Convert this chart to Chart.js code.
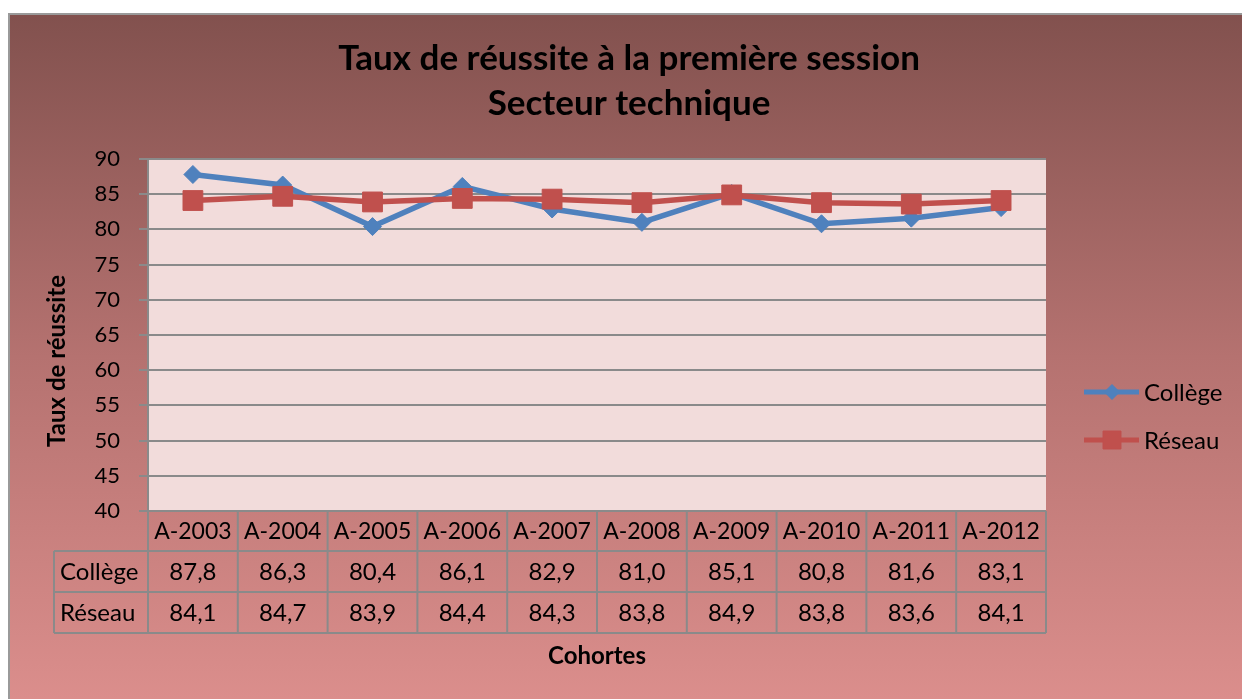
<!DOCTYPE html>
<html>
<head>
<meta charset="utf-8">
<script src="https://cdn.jsdelivr.net/npm/chart.js@4.4.1/dist/chart.umd.min.js"></script>
<style>
html,body{margin:0;padding:0;background:#fff;}
#wrap{width:1242px;height:699px;position:relative;}
</style>
</head>
<body>
<div id="wrap"><canvas id="c" width="1242" height="699"></canvas></div>
<script>
const categories = ['A-2003','A-2004','A-2005','A-2006','A-2007','A-2008','A-2009','A-2010','A-2011','A-2012'];
const college = [87.8, 86.3, 80.4, 86.1, 82.9, 81.0, 85.1, 80.8, 81.6, 83.1];
const reseau = [84.1, 84.7, 83.9, 84.4, 84.3, 83.8, 84.9, 83.8, 83.6, 84.1];
const seriesNames = ['Collège', 'Réseau'];
const titleLines = ['Taux de réussite à la première session', 'Secteur technique'];
const yTitle = 'Taux de réussite';
const xTitle = 'Cohortes';

const FONT = 'Lato, "Open Sans", sans-serif';
const GRID = '#8a8a8a';
const BLUE = '#4F81BD';
const RED = '#C0504D';

const deco = {
  id: 'deco',
  beforeDraw(chart) {
    const ctx = chart.ctx, ca = chart.chartArea;
    ctx.save();
    ctx.fillStyle = '#ffffff';
    ctx.fillRect(0, 0, chart.width, chart.height);
    const g = ctx.createLinearGradient(0, 14, 0, 699);
    g.addColorStop(0, '#82514E');
    g.addColorStop(0.5, '#B57270');
    g.addColorStop(1, '#DB8E8C');
    ctx.fillStyle = g;
    ctx.fillRect(9, 14, chart.width - 9, chart.height - 14);
    ctx.strokeStyle = '#9a9a9a';
    ctx.lineWidth = 2;
    ctx.beginPath();
    ctx.moveTo(9, chart.height); ctx.lineTo(9, 14); ctx.lineTo(chart.width, 14);
    ctx.stroke();
    ctx.fillStyle = '#F2DCDB';
    ctx.fillRect(ca.left, ca.top, ca.right - ca.left, ca.bottom - ca.top);
    ctx.restore();
  },
  afterDraw(chart) {
    const ctx = chart.ctx, ca = chart.chartArea;
    const xs = chart.scales.x;
    const n = categories.length;
    const cw = (ca.right - ca.left) / n;
    ctx.save();
    // Title
    ctx.fillStyle = '#000';
    ctx.textAlign = 'center';
    ctx.textBaseline = 'middle';
    ctx.font = 'bold 35px ' + FONT;
    ctx.fillText(titleLines[0], 629, 59);
    ctx.fillText(titleLines[1], 629, 104);
    // Y title
    ctx.save();
    ctx.translate(57, 361);
    ctx.rotate(-Math.PI / 2);
    ctx.font = 'bold 24px ' + FONT;
    ctx.fillText(yTitle, 0, 0);
    ctx.restore();
    // X title
    ctx.font = 'bold 24px ' + FONT;
    ctx.fillText(xTitle, (ca.left + ca.right) / 2, 656);
    // Data table
    const rowTop = ca.bottom, r1 = 551, r2 = 592, r3 = 633, labL = 54;
    ctx.strokeStyle = GRID;
    ctx.lineWidth = 2;
    ctx.beginPath();
    [r1, r2, r3].forEach(y => { ctx.moveTo(labL, y); ctx.lineTo(ca.right, y); });
    ctx.moveTo(labL, r1); ctx.lineTo(labL, r3);
    for (let i = 0; i <= n; i++) {
      const x = xs.getPixelForValue(0) - cw / 2 + i * cw;
      ctx.moveTo(x, rowTop); ctx.lineTo(x, r3);
    }
    ctx.stroke();
    ctx.font = '23px ' + FONT;
    ctx.fillStyle = '#000';
    const rows = [college, reseau];
    categories.forEach((c, i) => {
      const x = xs.getPixelForValue(i);
      ctx.textAlign = 'center';
      ctx.fillText(c, x, (rowTop + r1) / 2 + 1);
      ctx.font = '24px ' + FONT;
      ctx.fillText(rows[0][i].toFixed(1).replace('.', ','), x, (r1 + r2) / 2 + 1);
      ctx.fillText(rows[1][i].toFixed(1).replace('.', ','), x, (r2 + r3) / 2 + 1);
      ctx.font = '23px ' + FONT;
    });
    ctx.font = '24px ' + FONT;
    ctx.textAlign = 'left';
    ctx.fillText(seriesNames[0], 60, (r1 + r2) / 2 + 1);
    ctx.fillText(seriesNames[1], 60, (r2 + r3) / 2 + 1);
    // Legend
    const legY = [392, 440];
    const legR = [7.5, 12.7];
    chart.data.datasets.forEach((ds, k) => {
      const y = legY[k];
      ctx.strokeStyle = ds.borderColor;
      ctx.lineWidth = 5;
      ctx.beginPath(); ctx.moveTo(1084, y); ctx.lineTo(1139, y); ctx.stroke();
      ctx.fillStyle = ds.backgroundColor;
      ctx.strokeStyle = ds.borderColor;
      ctx.lineWidth = 1;
      Chart.helpers.drawPoint(ctx, {
        pointStyle: ds.pointStyle, radius: legR[k], borderWidth: 1, rotation: 0
      }, 1112, y);
      ctx.fillStyle = '#000';
      ctx.textAlign = 'left';
      ctx.font = '24px ' + FONT;
      ctx.fillText(ds.label, 1144, y + 1);
    });
    ctx.restore();
  }
};

new Chart(document.getElementById('c'), {
  type: 'line',
  data: {
    labels: categories,
    datasets: [
      {
        label: seriesNames[0], data: college, order: 1,
        borderColor: BLUE, backgroundColor: BLUE, borderWidth: 5.5,
        pointStyle: 'rectRot', pointRadius: 9, pointBorderWidth: 1,
        pointBackgroundColor: BLUE, pointBorderColor: BLUE, tension: 0
      },
      {
        label: seriesNames[1], data: reseau, order: 0,
        borderColor: RED, backgroundColor: RED, borderWidth: 5.5,
        pointStyle: 'rect', pointRadius: 14, pointBorderWidth: 1,
        pointBackgroundColor: RED, pointBorderColor: RED, tension: 0
      }
    ]
  },
  options: {
    responsive: false,
    animation: false,
    devicePixelRatio: 1,
    layout: { padding: { left: 0, top: 159, right: 196, bottom: 188 } },
    plugins: { legend: { display: false }, title: { display: false }, tooltip: { enabled: false } },
    scales: {
      x: { type: 'category', offset: true, display: false },
      y: {
        min: 40, max: 90,
        afterFit(scale) { scale.width = 148; },
        ticks: { stepSize: 5, color: '#000', padding: 19, font: { family: FONT, size: 22 } },
        grid: { color: GRID, lineWidth: 2, tickLength: 9, drawTicks: true },
        border: { display: true, color: GRID, width: 2 }
      }
    }
  },
  plugins: [deco]
});
</script>
</body>
</html>
